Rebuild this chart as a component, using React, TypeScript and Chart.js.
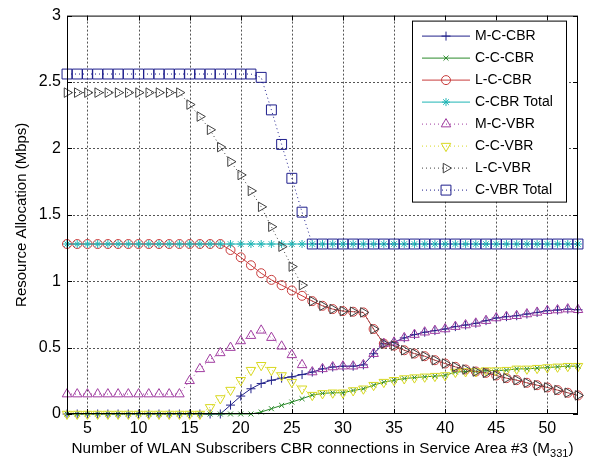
import React, { useEffect, useRef } from 'react';
import { Chart, registerables } from 'chart.js';
import { drawPoint } from 'chart.js/helpers';

Chart.register(...registerables);

const FONT = '"Liberation Sans", Arial, Helvetica, sans-serif';

// ---- data ----
const connections = [3, 4, 5, 6, 7, 8, 9, 10, 11, 12, 13, 14, 15, 16, 17, 18, 19, 20, 21, 22, 23, 24, 25, 26, 27, 28, 29, 30, 31, 32, 33, 34, 35, 36, 37, 38, 39, 40, 41, 42, 43, 44, 45, 46, 47, 48, 49, 50, 51, 52, 53];

const mcCbr = [0, 0, 0, 0, 0, 0, 0, 0, 0, 0, 0, 0, 0, 0, 0, 0, 0.067, 0.135, 0.19, 0.23, 0.254, 0.27, 0.28, 0.297, 0.316, 0.34, 0.354, 0.36, 0.36, 0.37, 0.454, 0.53, 0.54, 0.573, 0.598, 0.616, 0.628, 0.64, 0.658, 0.67, 0.683, 0.703, 0.723, 0.733, 0.74, 0.753, 0.765, 0.778, 0.783, 0.79, 0.785];
const ccCbr = [0, 0, 0, 0, 0, 0, 0, 0, 0, 0, 0, 0, 0, 0, 0, 0, 0, 0, 0, 0.015, 0.04, 0.065, 0.09, 0.115, 0.142, 0.155, 0.16, 0.16, 0.177, 0.19, 0.217, 0.24, 0.254, 0.267, 0.274, 0.28, 0.285, 0.29, 0.316, 0.32, 0.32, 0.327, 0.327, 0.33, 0.34, 0.34, 0.345, 0.35, 0.355, 0.36, 0.36];
const lcCbr = [1.28, 1.28, 1.28, 1.28, 1.28, 1.28, 1.28, 1.28, 1.28, 1.28, 1.28, 1.28, 1.28, 1.28, 1.28, 1.28, 1.235, 1.18, 1.12, 1.06, 1.01, 0.97, 0.93, 0.89, 0.85, 0.815, 0.79, 0.775, 0.77, 0.765, 0.64, 0.53, 0.515, 0.48, 0.455, 0.435, 0.405, 0.38, 0.355, 0.335, 0.32, 0.31, 0.29, 0.27, 0.255, 0.235, 0.217, 0.2, 0.18, 0.16, 0.14];
const cCbrTotal = [1.28, 1.28, 1.28, 1.28, 1.28, 1.28, 1.28, 1.28, 1.28, 1.28, 1.28, 1.28, 1.28, 1.28, 1.28, 1.28, 1.28, 1.28, 1.28, 1.28, 1.28, 1.28, 1.28, 1.28, 1.28, 1.28, 1.28, 1.28, 1.28, 1.28, 1.28, 1.28, 1.28, 1.28, 1.28, 1.28, 1.28, 1.28, 1.28, 1.28, 1.28, 1.28, 1.28, 1.28, 1.28, 1.28, 1.28, 1.28, 1.28, 1.28, 1.28];
const mcVbr = [0.15, 0.15, 0.15, 0.15, 0.15, 0.15, 0.15, 0.15, 0.15, 0.15, 0.15, 0.15, 0.25, 0.34, 0.41, 0.46, 0.5, 0.55, 0.59, 0.63, 0.575, 0.51, 0.445, 0.37, 0.316, 0.34, 0.354, 0.36, 0.36, 0.37, 0.454, 0.53, 0.54, 0.573, 0.598, 0.616, 0.628, 0.64, 0.658, 0.67, 0.683, 0.703, 0.723, 0.733, 0.74, 0.753, 0.765, 0.778, 0.783, 0.79, 0.785];
const ccVbr = [0, 0, 0, 0, 0, 0, 0, 0, 0, 0, 0, 0, 0, 0, 0.05, 0.117, 0.18, 0.254, 0.33, 0.367, 0.33, 0.29, 0.24, 0.19, 0.142, 0.155, 0.16, 0.16, 0.177, 0.19, 0.217, 0.24, 0.254, 0.267, 0.274, 0.28, 0.285, 0.29, 0.316, 0.32, 0.32, 0.327, 0.327, 0.33, 0.34, 0.34, 0.345, 0.35, 0.355, 0.36, 0.36];
const lcVbr = [2.42, 2.42, 2.42, 2.42, 2.42, 2.42, 2.42, 2.42, 2.42, 2.42, 2.42, 2.42, 2.33, 2.24, 2.14, 2.01, 1.9, 1.8, 1.68, 1.56, 1.41, 1.26, 1.11, 0.97, 0.85, 0.815, 0.79, 0.775, 0.77, 0.765, 0.64, 0.53, 0.515, 0.48, 0.455, 0.435, 0.405, 0.38, 0.355, 0.335, 0.32, 0.31, 0.29, 0.27, 0.255, 0.235, 0.217, 0.2, 0.18, 0.16, 0.14];
const cVbrTotal = [2.56, 2.56, 2.56, 2.56, 2.56, 2.56, 2.56, 2.56, 2.56, 2.56, 2.56, 2.56, 2.56, 2.56, 2.56, 2.56, 2.56, 2.56, 2.56, 2.535, 2.29, 2.03, 1.775, 1.52, 1.28, 1.28, 1.28, 1.28, 1.28, 1.28, 1.28, 1.28, 1.28, 1.28, 1.28, 1.28, 1.28, 1.28, 1.28, 1.28, 1.28, 1.28, 1.28, 1.28, 1.28, 1.28, 1.28, 1.28, 1.28, 1.28, 1.28];

const seriesNames = ['M-C-CBR', 'C-C-CBR', 'L-C-CBR', 'C-CBR Total', 'M-C-VBR', 'C-C-VBR', 'L-C-VBR', 'C-VBR Total'];
const seriesValues = [mcCbr, ccCbr, lcCbr, cCbrTotal, mcVbr, ccVbr, lcVbr, cVbrTotal];

const xMin = 3;
const xMax = 53;
const yMin = 0;
const yMax = 3;
const xTicks = [5, 10, 15, 20, 25, 30, 35, 40, 45, 50];
const xTickLabels = ['5', '10', '15', '20', '25', '30', '35', '40', '45', '50'];
const yTicks = [0, 0.5, 1, 1.5, 2, 2.5, 3];
const yTickLabels = ['0', '0.5', '1', '1.5', '2', '2.5', '3'];

const yTitle = 'Resource Allocation (Mbps)';
const xTitleMain = 'Number of WLAN Subscribers CBR connections in Service Area #3 (M';
const xTitleSub = '331';
const xTitleEnd = ')';

// ---- styles ----
const DOT = [1, 3];
const styles = [
  { color: '#22228a', dash: [], pointStyle: 'cross', rotation: 0, radius: 4.5 },
  { color: '#2a8a2a', dash: [], pointStyle: 'crossRot', rotation: 0, radius: 3.5 },
  { color: '#c83c3c', dash: [], pointStyle: 'circle', rotation: 0, radius: 4.5 },
  { color: '#1fb5b5', dash: [], pointStyle: 'star', rotation: 0, radius: 4 },
  { color: '#a03ca0', dash: DOT, pointStyle: 'triangle', rotation: 0, radius: 5.5 },
  { color: '#d8d820', dash: DOT, pointStyle: 'triangle', rotation: 180, radius: 5.5 },
  { color: '#404040', dash: DOT, pointStyle: 'triangle', rotation: 90, radius: 5.5 },
  { color: '#1e1e8c', dash: DOT, pointStyle: 'rect', rotation: 0, radius: 7 },
];

function xPix(area: any, v: number) {
  return area.left + ((v - xMin) / (xMax - xMin)) * (area.right - area.left);
}
function yPix(area: any, v: number) {
  return area.bottom - ((v - yMin) / (yMax - yMin)) * (area.bottom - area.top);
}

const matlabPlugin = {
  id: 'matlabLook',
  beforeDatasetsDraw(chart: any) {
    const ctx = chart.ctx;
    const area = chart.chartArea;
    const { left, right, top, bottom } = area;
    ctx.save();
    ctx.strokeStyle = '#555555';
    ctx.lineWidth = 1;
    ctx.setLineDash([2, 2]);
    ctx.beginPath();
    for (const v of xTicks) {
      const px = Math.round(xPix(area, v)) + 0.5;
      ctx.moveTo(px, top + 2);
      ctx.lineTo(px, bottom - 1);
    }
    for (const v of yTicks) {
      const py = Math.round(yPix(area, v)) + 0.5;
      if (py <= top + 2 || py >= bottom - 2) continue;
      ctx.moveTo(left + 2, py);
      ctx.lineTo(right - 1, py);
    }
    ctx.stroke();
    ctx.restore();
  },
  afterDatasetsDraw(chart: any) {
    const ctx = chart.ctx;
    const area = chart.chartArea;
    const { left, right, top, bottom } = area;
    ctx.save();
    // frame
    ctx.setLineDash([]);
    ctx.strokeStyle = '#000';
    ctx.lineWidth = 1;
    ctx.strokeRect(left + 0.5, top + 0.5, right - left - 1, bottom - top - 1);
    // inward ticks
    const tl = 5;
    ctx.beginPath();
    for (const v of xTicks) {
      const px = Math.round(xPix(area, v)) + 0.5;
      ctx.moveTo(px, bottom);
      ctx.lineTo(px, bottom - tl);
      ctx.moveTo(px, top);
      ctx.lineTo(px, top + tl);
    }
    for (const v of yTicks) {
      const py = Math.round(yPix(area, v)) + 0.5;
      ctx.moveTo(left, py);
      ctx.lineTo(left + tl, py);
      ctx.moveTo(right, py);
      ctx.lineTo(right - tl, py);
    }
    ctx.stroke();

    // legend
    const lw = 154;
    const lh = 181;
    const lx = right - 12 - lw;
    const ly = top + 5;
    ctx.fillStyle = '#fff';
    ctx.fillRect(lx, ly, lw, lh);
    ctx.strokeStyle = '#000';
    ctx.strokeRect(lx + 0.5, ly + 0.5, lw, lh);
    ctx.font = `14px ${FONT}`;
    ctx.textBaseline = 'middle';
    ctx.textAlign = 'left';
    styles.forEach((s, i) => {
      const cy = ly + 15 + i * 22;
      ctx.strokeStyle = s.color;
      ctx.lineWidth = 1;
      ctx.setLineDash(s.dash);
      ctx.beginPath();
      ctx.moveTo(lx + 10, cy + 0.5);
      ctx.lineTo(lx + 58, cy + 0.5);
      ctx.stroke();
      ctx.setLineDash([]);
      ctx.fillStyle = 'rgba(0,0,0,0)';
      drawPoint(ctx, { pointStyle: s.pointStyle as any, rotation: s.rotation, radius: s.radius, borderWidth: 1 } as any, lx + 34, cy + 0.5);
      ctx.fillStyle = '#000';
      ctx.fillText(seriesNames[i], lx + 63, cy + 1);
    });

    // y title
    ctx.fillStyle = '#000';
    ctx.font = `15px ${FONT}`;
    ctx.save();
    ctx.translate(22, (top + bottom) / 2);
    ctx.rotate(-Math.PI / 2);
    ctx.textAlign = 'center';
    ctx.textBaseline = 'middle';
    ctx.fillText(yTitle, 0, 0);
    ctx.restore();

    // x title with subscript
    ctx.textAlign = 'left';
    ctx.textBaseline = 'alphabetic';
    ctx.font = `15.3px ${FONT}`;
    const wMain = ctx.measureText(xTitleMain).width;
    const wEnd = ctx.measureText(xTitleEnd).width;
    ctx.font = `11px ${FONT}`;
    const wSub = ctx.measureText(xTitleSub).width;
    const total = wMain + wSub + wEnd;
    const sx = (left + right) / 2 - total / 2;
    const base = bottom + 39;
    ctx.font = `15.3px ${FONT}`;
    ctx.fillText(xTitleMain, sx, base);
    ctx.font = `11px ${FONT}`;
    ctx.fillText(xTitleSub, sx + wMain, base + 4);
    ctx.font = `15.3px ${FONT}`;
    ctx.fillText(xTitleEnd, sx + wMain + wSub, base);
    ctx.restore();
  },
};

export default function App() {
  const canvasRef = useRef<HTMLCanvasElement | null>(null);

  useEffect(() => {
    document.body.style.margin = '0';
    const canvas = canvasRef.current;
    if (!canvas) return;
    const datasets = seriesValues.map((vals, i) => {
      const s = styles[i];
      return {
        label: seriesNames[i],
        data: connections.map((c, j) => ({ x: c, y: vals[j] })),
        borderColor: s.color,
        borderWidth: 1,
        borderDash: s.dash,
        pointStyle: s.pointStyle,
        pointRotation: s.rotation,
        pointRadius: s.radius,
        pointBorderColor: s.color,
        pointBackgroundColor: 'rgba(0,0,0,0)',
        pointBorderWidth: 1,
        fill: false,
        tension: 0,
        clip: false,
        order: -i,
      };
    });
    const chart = new Chart(canvas, {
      type: 'line',
      data: { datasets: datasets as any },
      options: {
        animation: false,
        responsive: false,
        devicePixelRatio: 1,
        layout: { padding: { top: 13, right: 13, left: 0, bottom: 0 } },
        plugins: { legend: { display: false }, tooltip: { enabled: false } },
        scales: {
          x: {
            type: 'linear',
            min: xMin,
            max: xMax,
            grid: { display: false, drawTicks: false },
            border: { display: false },
            ticks: {
              autoSkip: false,
              maxRotation: 0,
              padding: 5,
              color: '#000',
              font: { family: FONT, size: 16 },
              callback: (v: any) => {
                const k = xTicks.indexOf(Number(v));
                return k >= 0 ? xTickLabels[k] : '';
              },
            },
            afterBuildTicks: (axis: any) => {
              axis.ticks = xTicks.map((v) => ({ value: v }));
            },
            afterFit: (axis: any) => {
              axis.height = 47;
            },
          },
          y: {
            type: 'linear',
            min: yMin,
            max: yMax,
            grid: { display: false, drawTicks: false },
            border: { display: false },
            ticks: {
              padding: 6,
              color: '#000',
              font: { family: FONT, size: 16 },
              callback: (v: any) => {
                const k = yTicks.indexOf(Number(v));
                return k >= 0 ? yTickLabels[k] : '';
              },
            },
            afterBuildTicks: (axis: any) => {
              axis.ticks = yTicks.map((v) => ({ value: v }));
            },
            afterFit: (axis: any) => {
              axis.width = 67;
            },
          },
        },
      },
      plugins: [matlabPlugin],
    });
    return () => chart.destroy();
  }, []);

  return (
    <div style={{ width: 591, height: 461, overflow: 'hidden', background: '#fff' }}>
      <canvas ref={canvasRef} width={591} height={461} style={{ display: 'block' }} />
    </div>
  );
}
